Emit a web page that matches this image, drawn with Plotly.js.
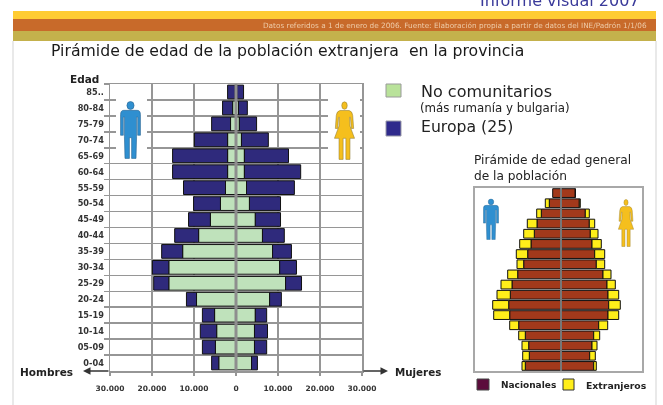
<!DOCTYPE html>
<html><head><meta charset="utf-8">
<script src="https://cdn.plot.ly/plotly-3.0.1.min.js"></script>
<style>html,body{margin:0;padding:0;background:#fff;overflow:hidden}#c{width:663px;height:405px;filter:blur(0.65px)}</style>
</head><body><div id="c"></div>
<script>
const ageGroups = ['85..','80-84','75-79','70-74','65-69','60-64','55-59','50-54','45-49','40-44','35-39','30-34','25-29','20-24','15-19','10-14','05-09','0-04'];
const menNonEU   = [200,800,1300,2000,2000,2000,2500,3700,6100,8900,12700,16000,16000,9400,5100,4600,4900,4100];
const menEurope  = [1800,2400,4500,7900,13100,13100,10000,6400,5200,5700,5000,3900,3600,2400,2900,3900,3100,1700];
const womenNonEU = [200,600,800,1300,2000,2000,2500,3200,4600,6300,8700,10400,11800,8000,4600,4400,4400,3700];
const womenEurope= [1600,2100,4100,6400,10500,13400,11400,7400,6000,5200,4500,4000,3800,2800,2700,3100,2900,1400];
const menNational   = [8.3,11.7,19.7,24,26.7,30,33.3,37.3,43.3,49,50.7,52.3,51.3,42.3,35.7,32.3,31.7,35.7];
const menForeign    = [0,4,4.6,9.7,10.6,11.3,11.4,6.7,10,11,13.3,16,16,9,6.6,6.7,6.6,3.3];
const womenNational = [14.3,18.3,24.3,28.3,29.3,31,33.7,35.3,42,46,47,47.7,47,37.7,32.7,31,28.7,32.7];
const womenForeign  = [0,1,4,5.4,7.7,9.3,10,8.4,8,8.3,10.7,11.6,10.7,9,6,5,5.6,2.6];
const xTickVals = [-30000,-20000,-10000,0,10000,20000,30000];
const xTickText = ['30.000','20.000','10.000','0','10.000','20.000','30.000'];

const W=663,H=405;
const px=x=>x/W, py=y=>1-y/H;
const neg=a=>a.map(v=>-v);
const GREEN='#bfe2bb',NAVY='#2f2a7c',RUST='#a2391b',YEL='#ffee1a',EDGE='#111',GRID='#969696';
function bar(x,yax,xax,color,name,lw){return {type:'bar',orientation:'h',y:ageGroups,x:x,xaxis:xax,yaxis:yax,name:name,showlegend:false,hoverinfo:'skip',marker:{color:color,line:{color:EDGE,width:lw}}};}
const traces=[
 bar(neg(menNonEU),'y','x',GREEN,'No comunitarios',1),
 bar(neg(menEurope),'y','x',NAVY,'Europa (25)',1),
 bar(womenNonEU,'y','x',GREEN,'No comunitarios',1),
 bar(womenEurope,'y','x',NAVY,'Europa (25)',1),
 bar(neg(menNational),'y2','x2',RUST,'Nacionales',1),
 bar(neg(menForeign),'y2','x2',YEL,'Extranjeros',1),
 bar(womenNational,'y2','x2',RUST,'Nacionales',1),
 bar(womenForeign,'y2','x2',YEL,'Extranjeros',1)
];
const FONT='"DejaVu Sans",Verdana,sans-serif';
function txt(t,x,y,size,opt={}){return {text:t,xref:'paper',yref:'paper',x:px(x-2),y:py(y),xanchor:'left',yanchor:'middle',showarrow:false,align:'left',font:{family:FONT,size:size,color:opt.color||'#222'}};}
function rect(x0,y0,x1,y1,fill,line,layer){return {type:'rect',xref:'paper',yref:'paper',x0:px(x0),x1:px(x1),y0:py(y0),y1:py(y1),fillcolor:fill,line:{color:line||fill,width:line?1:0},layer:layer||'above'};}
function man(c,e){return `<g fill="${c}" stroke="${e}" stroke-width="1"><circle cx="30" cy="9" r="6.5"/><path d="M18 17H42Q48 17 48 24V58H43V28H41V60 L40 96H32V62H28V96H20L19 60V28H17V58H12V24Q12 17 18 17Z"/></g>`;}
function woman(c,e){return `<g fill="${c}" stroke="${e}" stroke-width="1"><circle cx="30" cy="9" r="6"/><path d="M20 17H40Q47 18 48 25L50 46H45L43 28H41L42 42L52 62H42V96H33V62H27V96H18V62H8L18 42L19 28H17L15 46H10L12 25Q13 18 20 17Z"/></g>`;}
function icon(body,vb,x0,y0,x1,y1){
 const w=x1-x0,h=y1-y0;
 const svg=`<svg xmlns="http://www.w3.org/2000/svg" width="${w}" height="${h}" viewBox="${vb}" preserveAspectRatio="none">${body}</svg>`;
 return {source:'data:image/svg+xml;charset=utf-8,'+encodeURIComponent(svg),xref:'paper',yref:'paper',x:px(x0),y:py(y0),sizex:w/W,sizey:h/H,xanchor:'left',yanchor:'top',sizing:'stretch',layer:'above'};
}
const mask=(x0,y0,x1,y1)=>({source:'data:image/svg+xml;charset=utf-8,'+encodeURIComponent(`<svg xmlns="http://www.w3.org/2000/svg" width="${x1-x0}" height="${y1-y0}"><rect width="100%" height="100%" fill="#fff"/></svg>`),xref:'paper',yref:'paper',x:px(x0),y:py(y0),sizex:(x1-x0)/W,sizey:(y1-y0)/H,xanchor:'left',yanchor:'top',sizing:'stretch',layer:'above'});
const MANBOX='11 0 38 97',WOMANBOX='7 0 46 97';
const layout={
 width:W,height:H,margin:{l:0,r:0,t:0,b:0,pad:0},paper_bgcolor:'#fff',plot_bgcolor:'#fff',
 barmode:'relative',bargap:0.14,font:{family:FONT,color:'#333'},
 xaxis:{domain:[px(110),px(362)],range:[-30000,30000],anchor:'y',tickmode:'array',tickvals:xTickVals,ticktext:xTickText,ticks:'outside',ticklen:3,tickwidth:1.5,tickcolor:GRID,ticklabelstandoff:6,tickfont:{family:FONT,size:7.5,color:'#333',weight:700},showgrid:true,gridcolor:GRID,gridwidth:1.5,zeroline:false,showline:true,mirror:true,linecolor:GRID,linewidth:1.5,fixedrange:true},
 yaxis:{domain:[py(371),py(84)],anchor:'x',type:'category',categoryorder:'array',categoryarray:ageGroups,autorange:'reversed',tickson:'boundaries',ticks:'outside',ticklen:5,tickwidth:1.5,tickcolor:GRID,showgrid:true,gridcolor:GRID,gridwidth:1.5,zeroline:false,showline:true,mirror:true,linecolor:GRID,linewidth:1.5,tickfont:{family:FONT,size:8.2,color:'#333',weight:700},ticklabelstandoff:3,fixedrange:true},
 xaxis2:{domain:[px(475),px(642)],range:[-86,81],anchor:'y2',showticklabels:false,ticks:'',showgrid:false,zeroline:false,showline:true,mirror:true,linecolor:'#a8a8a8',linewidth:2,fixedrange:true},
 yaxis2:{domain:[py(371),py(188)],anchor:'x2',type:'category',categoryorder:'array',categoryarray:ageGroups,autorange:'reversed',showticklabels:false,ticks:'',showgrid:false,zeroline:false,showline:true,mirror:true,linecolor:'#a8a8a8',linewidth:2,fixedrange:true},
 shapes:[
  rect(13,11,656,19,'#ffcc33'),
  rect(13,19,656,31,'#c86a2a'),
  rect(13,31,656,41,'#c4b14c'),
  {type:'line',xref:'paper',yref:'paper',x0:px(13),x1:px(13),y0:py(41),y1:0,line:{color:'#e2e2e2',width:1.5}},
  {type:'line',xref:'paper',yref:'paper',x0:px(656),x1:px(656),y0:py(41),y1:0,line:{color:'#e2e2e2',width:1.5}},
  {type:'line',xref:'x',yref:'paper',x0:0,x1:0,y0:py(371),y1:py(84),line:{color:'#8e8e8e',width:3},layer:'above'},
  {type:'line',xref:'x2',yref:'paper',x0:0,x1:0,y0:py(371),y1:py(188),line:{color:'#777',width:2},layer:'above'},
  rect(386,84,401,97,'#b9e29a','#9a9a9a'),
  rect(386,121,401,136,'#2f2a8c','#9a9aa8'),
  rect(477,379,489,390,'#5c0c3c','#444'),
  rect(563,379,574,390,YEL,'#333')
 ],
 images:[
  mask(116,88,147,156),
  icon(man('#2f8fd0','#26628f'),MANBOX,120,100,141,159),
  mask(328,88,360,156),
  icon(woman('#f5bf1d','#8f7a30'),WOMANBOX,334,100,355,160),
  icon(man('#2f8fd0','#26628f'),MANBOX,483,198,499,240),
  icon(woman('#f5bf1d','#9a8030'),WOMANBOX,618,198,634,247)
 ],
 annotations:[
  txt('Informe visual 2007',480,1,16,{color:'#3a3a9a'}),
  txt('Datos referidos a 1 de enero de 2006. Fuente: Elaboración propia a partir de datos del INE/Padrón 1/1/06',263,25.5,7.3,{color:'#eecba8'}),
  txt('Pirámide de edad de la población extranjera  en la provincia',51,51,15.7,{color:'#1a1a1a'}),
  txt('<b>Edad</b>',70,79,10.5),
  txt('<b>Hombres</b>',20,372,10.5),
  txt('<b>Mujeres</b>',395,372,10.3),
  txt('No comunitarios',421,91,16),
  txt('(más rumanía y bulgaria)',420,108,11.8),
  txt('Europa (25)',421,127,15.7),
  txt('Pirámide de edad general',474,160,12.2),
  txt('de la población',474,176,12.2),
  txt('<b>Nacionales</b>',501,385,9),
  txt('<b>Extranjeros</b>',586,385,9.3),
  {text:'',xref:'paper',yref:'paper',x:px(83),y:py(371),ax:27,ay:0,showarrow:true,arrowhead:2,arrowsize:1,arrowwidth:1.5,arrowcolor:'#333'},
  {text:'',xref:'paper',yref:'paper',x:px(388),y:py(371),ax:-26,ay:0,showarrow:true,arrowhead:2,arrowsize:1,arrowwidth:1.5,arrowcolor:'#333'}
 ]
};
Plotly.newPlot('c',traces,layout,{staticPlot:true,displayModeBar:false});
</script></body></html>
